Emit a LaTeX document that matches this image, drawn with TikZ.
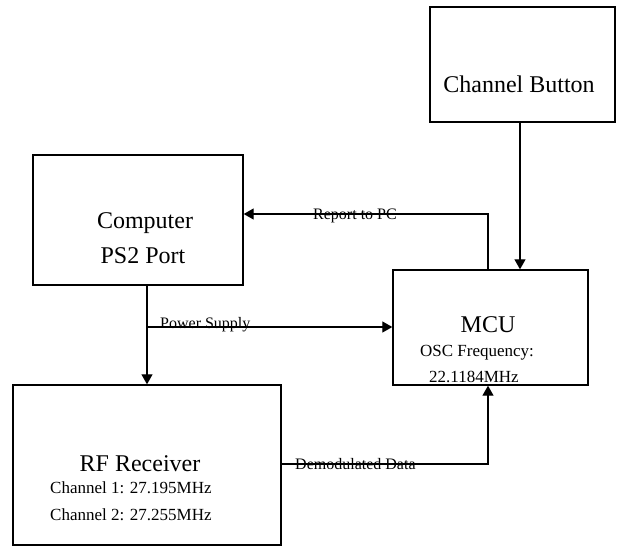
\documentclass[tikz,border=0pt]{standalone}
\usepackage{fontspec}
\setmainfont{Liberation Serif}
\usetikzlibrary{arrows.meta}
\begin{document}
\begin{tikzpicture}[x=1pt,y=-1pt,
  blk/.style={draw,line width=1.4pt,inner sep=0pt},
  conn/.style={line width=1.3pt,-{Triangle[length=10pt,width=11pt]}},
  lbl/.style={font=\fontsize{16}{16}\selectfont,inner sep=0pt},
  big/.style={font=\fontsize{24}{24}\selectfont,inner sep=0pt},
  small/.style={font=\fontsize{17}{17}\selectfont,inner sep=0pt}]
\useasboundingbox (0,0) rectangle (621,549);
% boxes
\node[blk,minimum width=185pt,minimum height=115pt] (cb) at (522.5,64.5) {};
\node[blk,minimum width=210pt,minimum height=130pt] (pc) at (138,220) {};
\node[blk,minimum width=195pt,minimum height=115pt] (mcu) at (490.5,327.5) {};
\node[blk,minimum width=268pt,minimum height=160pt] (rf) at (147,465) {};
% texts
\node[big] (tcb) at (519,84) {Channel Button};
\node[big] (tpc1) at (145,223) {Computer};
\node[big] (tpc2) at (143,256) {PS2 Port};
\node[big] (tmcu) at (488,325) {MCU};
\node[small] (tosc) at (477,353) {OSC Frequency:};
\node[small] (tfr) at (474,377) {22.1184MHz};
\node[big] (trf) at (140,464) {RF Receiver};
\node[small,anchor=west] (tc1) at (50,488) {Channel 1: 27.195MHz};
\node[small,anchor=west] (tc2) at (50,515) {Channel 2: 27.255MHz};
% connectors
\coordinate (cbb) at (520,122);
\draw[conn] (cbb) -- (cbb|-mcu.north);
\coordinate (r1) at (488,270);
\coordinate (r2) at (488,214);
\draw[conn] (r1) -- (r2) -- (r2-|pc.east);
\node[lbl] (lrep) at (355,216) {Report to PC};
\coordinate (p1) at (147,285);
\draw[conn] (p1) -- (p1|-rf.north);
\coordinate (p2) at (147,327);
\draw[conn] (p2) -- (p2-|mcu.west);
\node[lbl,anchor=west] (lpow) at (160,325) {Power Supply};
\coordinate (d1) at (488,464);
\draw[conn] (d1-|rf.east) -- (d1) -- (d1|-mcu.south);
\node[lbl,anchor=west] (ldem) at (295,464) {Demodulated Data};
\end{tikzpicture}
\end{document}
